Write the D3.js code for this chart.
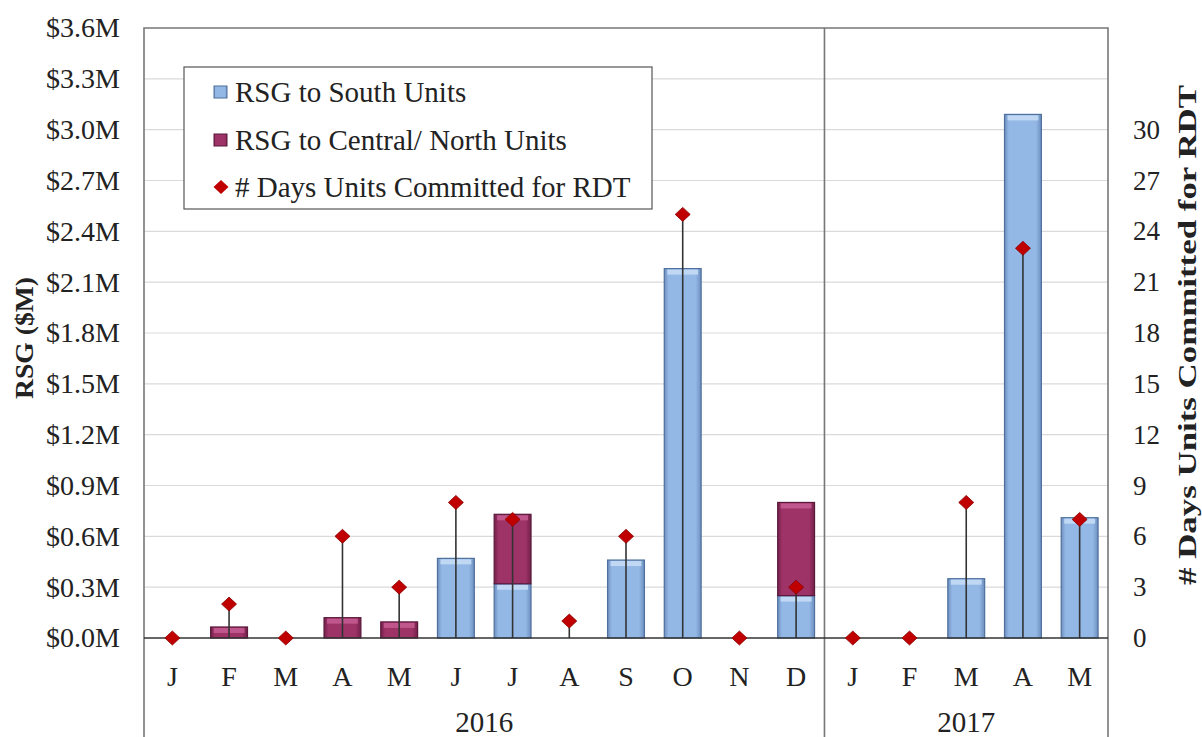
<!DOCTYPE html>
<html><head><meta charset="utf-8">
<script src="https://cdn.jsdelivr.net/npm/d3@7"></script>
<style>body{margin:0;background:#fff} svg{display:block;font-family:"Liberation Serif","Times New Roman",serif}</style>
</head><body>
<svg id="c" width="1202" height="737"></svg>
<script>
// ---- data ----
const months  = ["J","F","M","A","M","J","J","A","S","O","N","D","J","F","M","A","M"];
const yearLabels = ["2016","2017"];
const yearSpans  = [12, 5];
const south   = [0,0,0,0,0,0.47,0.32,0,0.46,2.18,0,0.25,0,0,0.35,3.09,0.71];
const central = [0,0.065,0,0.12,0.095,0,0.41,0,0,0,0,0.55,0,0,0,0,0];
const days    = [0,2,0,6,3,8,7,1,6,25,0,3,0,0,8,23,7];
const leftTicks  = [0,0.3,0.6,0.9,1.2,1.5,1.8,2.1,2.4,2.7,3.0,3.3,3.6];
const rightTicks = [0,3,6,9,12,15,18,21,24,27,30];
const seriesNames = ["RSG to South Units","RSG to Central/ North Units","# Days Units Committed for RDT"];

const svg = d3.select("#c");
const L = 144, R = 1108, T = 28, Z = 638, B = 737;
const idx = d3.range(months.length);
const x = d3.scaleBand().domain(idx).range([L, R]).paddingInner(0.35).paddingOuter(0.175);
const y = d3.scaleLinear().domain([0, 3.6]).range([Z, T]);
const y2 = d3.scaleLinear().domain([0, 36]).range([Z, T]);

// gradients
const defs = svg.append("defs");
function hgrad(id, edge, mid){
  const g = defs.append("linearGradient").attr("id", id).attr("x1","0").attr("x2","1").attr("y1","0").attr("y2","0");
  g.append("stop").attr("offset","0").attr("stop-color", edge);
  g.append("stop").attr("offset","0.12").attr("stop-color", mid);
  g.append("stop").attr("offset","0.85").attr("stop-color", mid);
  g.append("stop").attr("offset","1").attr("stop-color", edge);
}
hgrad("gBlue", "#6d8fc0", "#94b8e6");
hgrad("gMag", "#74204b", "#9d3367");

// gridlines
svg.append("g").selectAll("line").data(leftTicks.filter(d => d > 0 && d < 3.6)).join("line")
  .attr("x1", L).attr("x2", R).attr("y1", d => y(d)).attr("y2", d => y(d))
  .attr("stroke", "#dadada").attr("stroke-width", 1.2);

// bars
const stackData = idx.map(i => ({i, s: south[i], c: central[i]}));
const bars = svg.append("g");
function drawBar(sel, y0f, y1f, grad, stroke, hi){
  sel.append("rect")
    .attr("x", d => x(d.i)).attr("width", x.bandwidth())
    .attr("y", d => y(y1f(d))).attr("height", d => y(y0f(d)) - y(y1f(d)))
    .attr("fill", `url(#${grad})`).attr("stroke", stroke).attr("stroke-width", 1.2);
  sel.append("rect")
    .attr("x", d => x(d.i) + 3).attr("width", x.bandwidth() - 6)
    .attr("y", d => y(y1f(d)) + 1).attr("height", d => Math.min(5, Math.max(0, y(y0f(d)) - y(y1f(d)) - 2)))
    .attr("fill", hi).attr("opacity", 0.9);
}
bars.selectAll("g.s").data(stackData.filter(d => d.s > 0)).join("g").attr("class","s")
  .call(drawBar, d => 0, d => d.s, "gBlue", "#4f6f9c", "#c4dbf5");
bars.selectAll("g.c").data(stackData.filter(d => d.c > 0)).join("g").attr("class","c")
  .call(drawBar, d => d.s, d => d.s + d.c, "gMag", "#5a183b", "#c45b90");

// stems
const cx = i => x(i) + x.bandwidth() / 2;
svg.append("g").selectAll("line").data(idx.filter(i => days[i] > 0)).join("line")
  .attr("x1", cx).attr("x2", cx).attr("y1", Z).attr("y2", i => y2(days[i]))
  .attr("stroke", "#333").attr("stroke-width", 1.6);

// frame
const frame = svg.append("g").attr("stroke", "#777").attr("stroke-width", 1.6).attr("fill", "none");
let acc = 0;
const dividers = [];
yearSpans.forEach((n, k) => { acc += n; if (k < yearSpans.length - 1) dividers.push(acc); });
frame.append("path").attr("d", `M${L},${B}V${T}H${R}V${B}`);
dividers.forEach(n => {
  const xd = x.step() * n + L;
  frame.append("line").attr("x1", xd).attr("x2", xd).attr("y1", T).attr("y2", B);
});
// zero line
svg.append("line").attr("x1", L).attr("x2", R).attr("y1", Z).attr("y2", Z).attr("stroke", "#333").attr("stroke-width", 1.5);

// diamonds
const dpath = "M0,-7L7.5,0L0,7L-7.5,0Z";
svg.append("g").selectAll("path").data(idx).join("path")
  .attr("transform", i => `translate(${cx(i)},${y2(days[i])})`)
  .attr("d", dpath).attr("fill", "#c00000").attr("stroke", "#8a0000").attr("stroke-width", 0.8);

// axes
const fs = 28;
const la = svg.append("g").attr("transform", `translate(${L},0)`)
  .call(d3.axisLeft(y).tickValues(leftTicks).tickSize(0).tickPadding(24).tickFormat(d => "$" + d.toFixed(1) + "M"));
la.select(".domain").remove();
la.selectAll("text").attr("font-size", fs).attr("font-family", "Liberation Serif").attr("fill", "#222");
const ra = svg.append("g").attr("transform", `translate(${R},0)`)
  .call(d3.axisRight(y2).tickValues(rightTicks).tickSize(0).tickPadding(25).tickFormat(d3.format("d")));
ra.select(".domain").remove();
ra.selectAll("text").attr("font-size", 27).attr("font-family", "Liberation Serif").attr("fill", "#222");

// month labels
svg.append("g").selectAll("text").data(idx).join("text")
  .attr("x", cx).attr("y", 686).attr("text-anchor", "middle")
  .attr("font-size", fs).attr("fill", "#222").text(i => months[i]);
// year labels
let start = 0;
yearLabels.forEach((lab, k) => {
  const x0 = L + x.step() * start, x1 = L + x.step() * (start + yearSpans[k]);
  svg.append("text").attr("x", (x0 + x1) / 2).attr("y", 732).attr("text-anchor", "middle")
    .attr("font-size", 29).attr("fill", "#222").text(lab);
  start += yearSpans[k];
});

// axis titles
svg.append("text").attr("transform", "translate(33,338) rotate(-90)").attr("text-anchor", "middle")
  .attr("font-size", 25).attr("font-weight", "bold").attr("fill", "#222")
  .attr("textLength", 122).attr("lengthAdjust", "spacingAndGlyphs").text("RSG ($M)");
svg.append("text").attr("transform", "translate(1196,335) rotate(-90)").attr("text-anchor", "middle")
  .attr("font-size", 25).attr("font-weight", "bold").attr("fill", "#222")
  .attr("textLength", 500).attr("lengthAdjust", "spacingAndGlyphs").text("# Days Units Committed for RDT");

// legend
const lg = svg.append("g");
lg.append("rect").attr("x", 184).attr("y", 67).attr("width", 468).attr("height", 142)
  .attr("fill", "#fff").attr("stroke", "#555").attr("stroke-width", 1.2);
const rows = [92, 140, 187];
lg.append("rect").attr("x", 214).attr("y", rows[0] - 6).attr("width", 13).attr("height", 12).attr("fill", "url(#gBlue)").attr("stroke", "#4f6f9c");
lg.append("rect").attr("x", 214).attr("y", rows[1] - 6).attr("width", 13).attr("height", 12).attr("fill", "url(#gMag)").attr("stroke", "#5a183b");
lg.append("path").attr("transform", `translate(221,${rows[2]})`).attr("d", dpath).attr("fill", "#c00000");
seriesNames.forEach((n, k) => {
  lg.append("text").attr("x", 235).attr("y", rows[k] + 10).attr("font-size", 29).attr("fill", "#222").text(n);
});
</script>
</body></html>
